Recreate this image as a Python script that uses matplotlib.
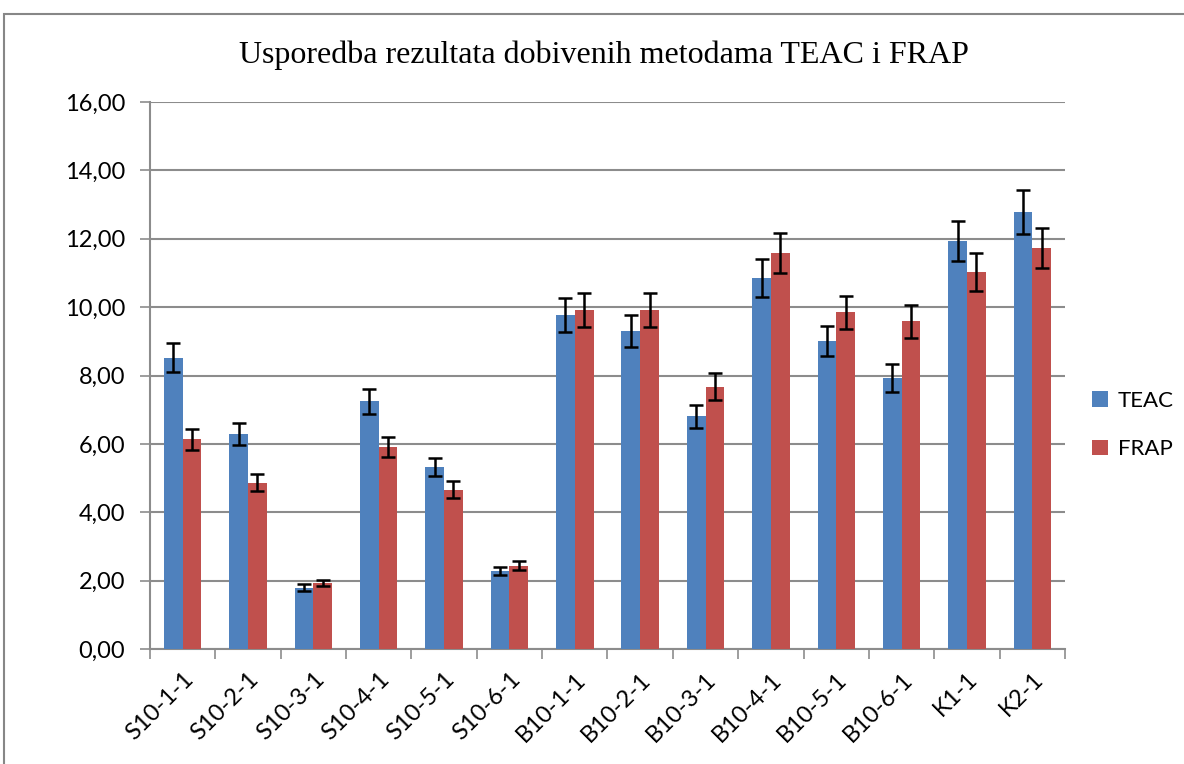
import numpy as np
import matplotlib
matplotlib.use("Agg")
import matplotlib.pyplot as plt
from matplotlib.patches import Rectangle
from matplotlib.ticker import FuncFormatter, FixedLocator

categories = ["S10-1-1", "S10-2-1", "S10-3-1", "S10-4-1", "S10-5-1", "S10-6-1",
              "B10-1-1", "B10-2-1", "B10-3-1", "B10-4-1", "B10-5-1", "B10-6-1",
              "K1-1", "K2-1"]
teac = [8.52, 6.30, 1.79, 7.24, 5.33, 2.27, 9.77, 9.29, 6.81, 10.86, 9.01, 7.93, 11.94, 12.79]
teac_err = [0.43, 0.32, 0.10, 0.37, 0.27, 0.12, 0.49, 0.47, 0.34, 0.55, 0.45, 0.40, 0.59, 0.64]
frap = [6.13, 4.86, 1.93, 5.91, 4.66, 2.43, 9.91, 9.91, 7.67, 11.58, 9.85, 9.59, 11.02, 11.72]
frap_err = [0.31, 0.25, 0.10, 0.30, 0.24, 0.13, 0.49, 0.49, 0.39, 0.58, 0.49, 0.48, 0.55, 0.58]

blue = "#4F81BD"
red = "#C0504D"
grid_col = "#8C8C8C"

fig = plt.figure(figsize=(11.84, 7.64), dpi=100)
ax = fig.add_axes([150/1184, 1-649/764, 915/1184, 547/764])

# outer chart border
fig.patches.append(Rectangle((4/1184, -0.1), 1.2, 1-14/764+0.1, transform=fig.transFigure,
                             fill=False, edgecolor="#878787", linewidth=1.5))

x = np.arange(len(categories))
w = 0.286
ekw = dict(ecolor="black", elinewidth=1.8, capsize=5, capthick=1.8)
ax.bar(x - w/2, teac, w, yerr=teac_err, color=blue, label="TEAC", error_kw=ekw, zorder=3)
ax.bar(x + w/2, frap, w, yerr=frap_err, color=red, label="FRAP", error_kw=ekw, zorder=3)

ax.set_xlim(-0.5, len(categories) - 0.5)
ax.set_ylim(0, 16)
ax.set_yticks(np.arange(0, 17, 2))
ax.yaxis.set_major_formatter(FuncFormatter(lambda v, p: f"{v:.2f}".replace(".", ",")))
ax.yaxis.grid(True, color=grid_col, linewidth=1.5, zorder=0)
ax.set_axisbelow(True)

ax.set_xticks(x)
ax.set_xticklabels(categories, rotation=45, ha="right", rotation_mode="anchor",
                   fontsize=17, family="Lato")
ax.xaxis.set_minor_locator(FixedLocator(np.arange(-0.5, len(categories), 1)))
ax.tick_params(axis="x", which="major", length=0, pad=14)
ax.tick_params(axis="x", which="minor", length=7, width=1.2, color=grid_col, direction="out")
ax.tick_params(axis="y", length=7, width=1.2, color=grid_col, labelsize=17, pad=11)
for lab in ax.get_yticklabels():
    lab.set_family("Lato")

for s in ["top", "right"]:
    ax.spines[s].set_visible(False)
for s in ["left", "bottom"]:
    ax.spines[s].set_color(grid_col)
    ax.spines[s].set_linewidth(1.5)

fig.text(604/1184, 1-55/764, "Usporedba rezultata dobivenih metodama TEAC i FRAP",
         ha="center", va="center", fontsize=23, family="Liberation Serif")

leg = fig.legend(loc="center left", bbox_to_anchor=(1072/1184, 1-425/764), frameon=False,
                 prop={"family": "Lato", "size": 16}, handlelength=0.7, handleheight=0.7,
                 handletextpad=0.45, labelspacing=1.3)

fig.savefig("out.png", dpi=100)
